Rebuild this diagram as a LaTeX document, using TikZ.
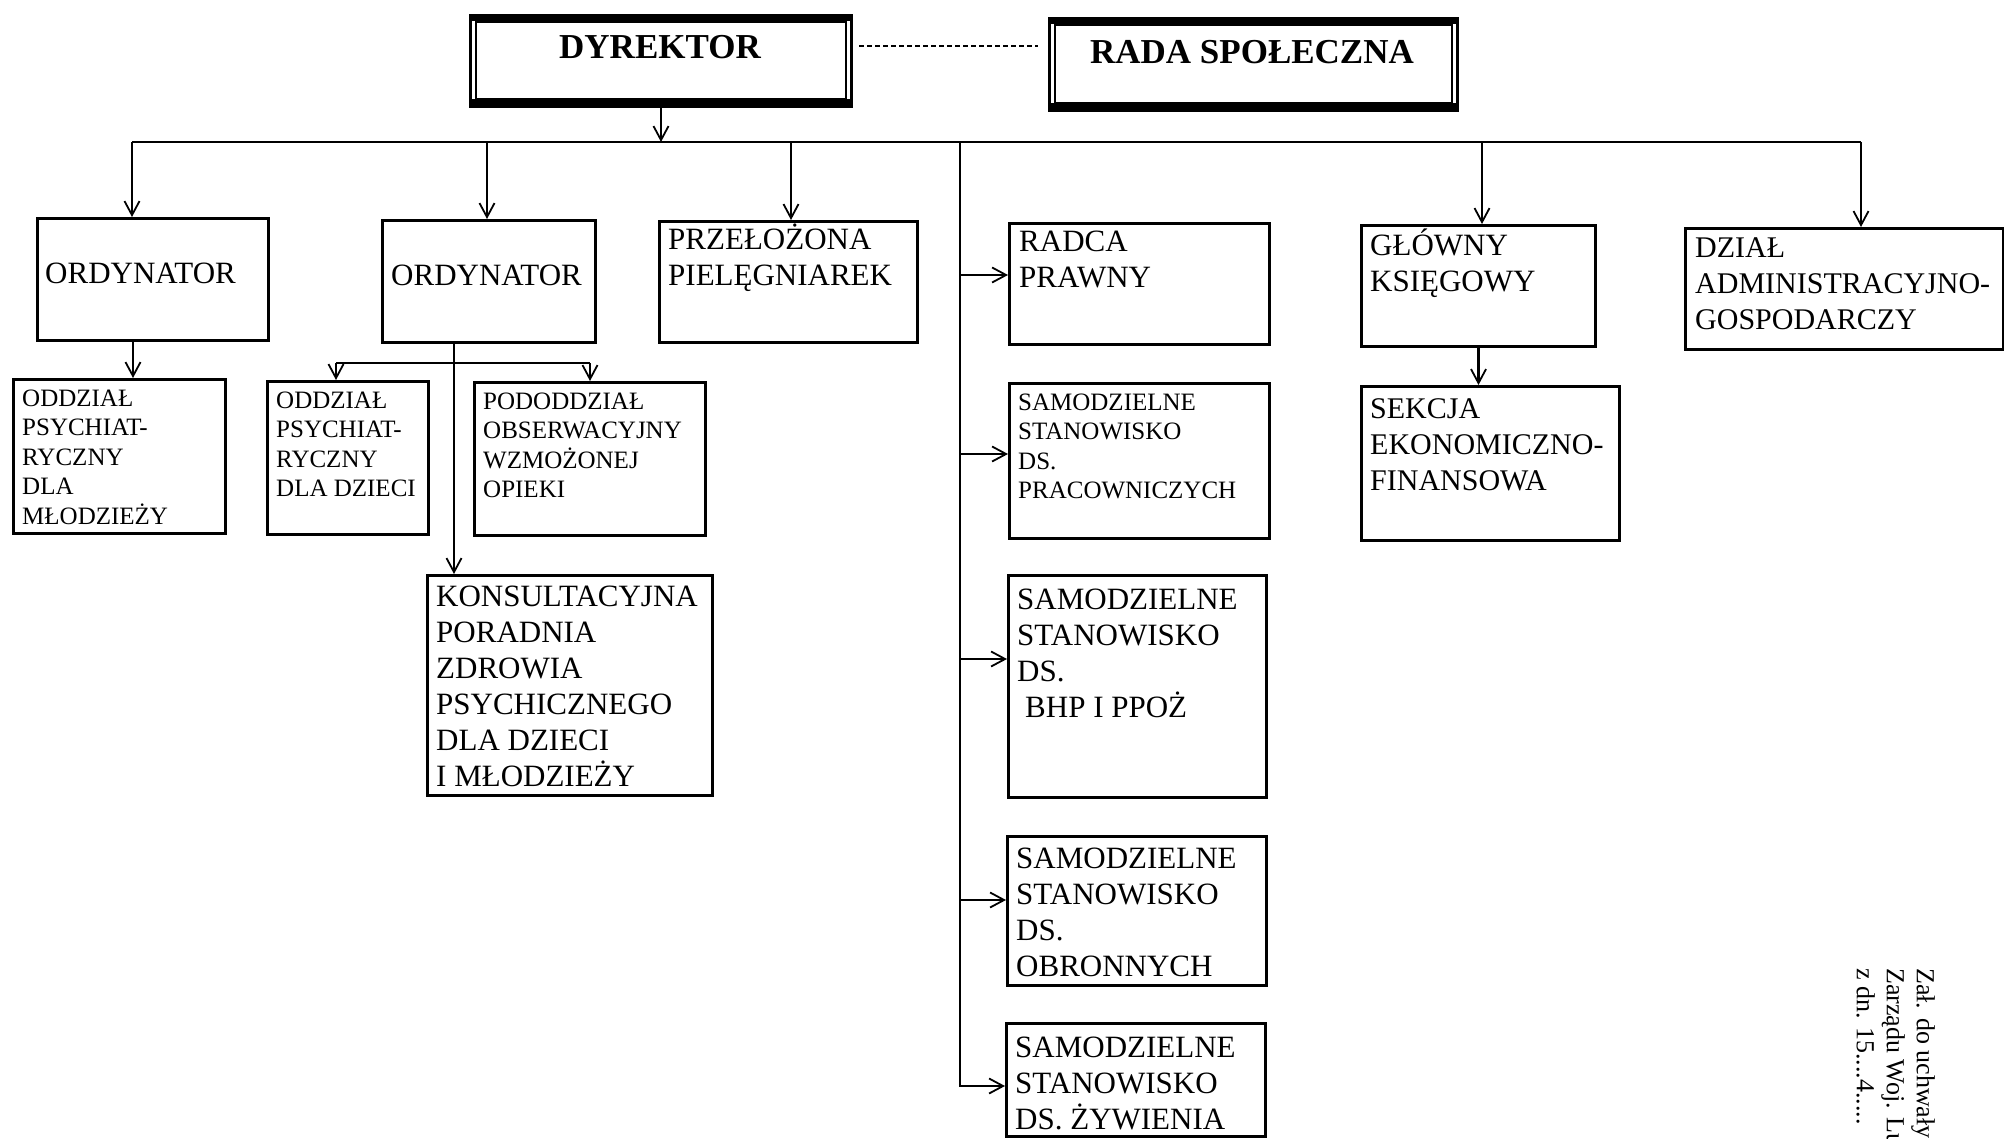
\documentclass[tikz,border=0pt]{standalone}
\usepackage{fontspec}
\setmainfont{Liberation Serif}
\usetikzlibrary{arrows.meta,calc}
\begin{document}
\begin{tikzpicture}[x=1pt,y=-1pt,
  box/.style={draw, line width=3pt, inner sep=0pt, anchor=north west},
  big/.style={anchor=base west, align=left, inner sep=0pt, font=\fontsize{31}{36}\selectfont},
  small/.style={anchor=base west, align=left, inner sep=0pt, font=\fontsize{25}{29.5}\selectfont},
  conn/.style={line width=2.2pt},
  arr/.style={conn, -{Straight Barb[length=14pt,width=15pt,line width=1.8pt]}},
  dashline/.style={line width=1.2pt, dash pattern=on 5pt off 3pt}]
\useasboundingbox (0,0) rectangle (2004,1139);

% top boxes (last-line baselines are given for the text nodes)
\node[box, minimum width=381pt, minimum height=91pt] (dyr) at (469,14) {};
\draw[line width=1.4pt] ($(dyr.north west)+(7,8)$) rectangle ($(dyr.south east)+(-7,-9)$);
\fill ($(dyr.north west)+(0,0)$) rectangle ($(dyr.north east)+(0,7)$);
\fill ($(dyr.south west)+(0,-9)$) rectangle ($(dyr.south east)$);
\node[anchor=base, inner sep=0pt, font=\fontsize{35}{40}\selectfont\bfseries] (dyrt) at (660,59) {DYREKTOR};

\node[box, minimum width=408pt, minimum height=92pt] (rada) at (1048,17) {};
\draw[line width=1.4pt] ($(rada.north west)+(7,8)$) rectangle ($(rada.south east)+(-7,-9)$);
\fill ($(rada.north west)+(0,0)$) rectangle ($(rada.north east)+(0,7)$);
\fill ($(rada.south west)+(0,-9)$) rectangle ($(rada.south east)$);
\node[anchor=base, inner sep=0pt, font=\fontsize{35}{40}\selectfont\bfseries] (radat) at (1252,64) {RADA SPOŁECZNA};

% second row
\node[box, minimum width=231pt, minimum height=122pt] (ord1) at (36,217) {};
\node[big] (ord1t) at (45,284) {ORDYNATOR};
\node[box, minimum width=213pt, minimum height=122pt] (ord2) at (381,219) {};
\node[big] (ord2t) at (391,286) {ORDYNATOR};
\node[box, minimum width=258pt, minimum height=121pt] (prz) at (658,220) {};
\node[big] (przt) at (668,286) {PRZEŁOŻONA\\PIELĘGNIAREK};
\node[box, minimum width=260pt, minimum height=121pt] (radca) at (1008,222) {};
\node[big] (radcat) at (1019,288) {RADCA\\PRAWNY};
\node[box, minimum width=234pt, minimum height=121pt] (glow) at (1360,224) {};
\node[big] (glowt) at (1370,292) {GŁÓWNY\\KSIĘGOWY};
\node[box, minimum width=318pt, minimum height=121pt] (dzial) at (1684,227) {};
\node[big, font=\fontsize{30}{36}\selectfont] (dzialt) at (1695,330) {DZIAŁ\\ADMINISTRACYJNO-\\GOSPODARCZY};

% third row
\node[box, minimum width=212pt, minimum height=154pt] (oddz1) at (12,378) {};
\node[small] (oddz1t) at (22,524) {ODDZIAŁ\\PSYCHIAT-\\RYCZNY\\DLA\\MŁODZIEŻY};
\node[box, minimum width=161pt, minimum height=153pt] (oddz2) at (266,380) {};
\node[small] (oddz2t) at (276,496.5) {ODDZIAŁ\\PSYCHIAT-\\RYCZNY\\DLA DZIECI};
\node[box, minimum width=231pt, minimum height=153pt] (podd) at (473,381) {};
\node[small] (poddt) at (483,497.5) {PODODDZIAŁ\\OBSERWACYJNY\\WZMOŻONEJ\\OPIEKI};
\node[box, minimum width=285pt, minimum height=220pt] (kons) at (426,574) {};
\node[big] (konst) at (436,786) {KONSULTACYJNA\\PORADNIA\\ZDROWIA\\PSYCHICZNEGO\\DLA DZIECI\\I MŁODZIEŻY};

\node[box, minimum width=260pt, minimum height=155pt] (prac) at (1008,382) {};
\node[small] (pract) at (1018,498.5) {SAMODZIELNE\\STANOWISKO\\DS.\\PRACOWNICZYCH};
\node[box, minimum width=258pt, minimum height=222pt] (bhp) at (1007,574) {};
\node[big] (bhpt) at (1017,717) {SAMODZIELNE\\STANOWISKO\\DS.\\\hspace*{8pt}BHP I PPOŻ};
\node[box, minimum width=259pt, minimum height=149pt] (obr) at (1006,835) {};
\node[big] (obrt) at (1016,976) {SAMODZIELNE\\STANOWISKO\\DS.\\OBRONNYCH};
\node[box, minimum width=259pt, minimum height=113pt] (zyw) at (1005,1022) {};
\node[big] (zywt) at (1015,1129) {SAMODZIELNE\\STANOWISKO\\DS. ŻYWIENIA};

\node[box, minimum width=258pt, minimum height=154pt] (sekcja) at (1360,385) {};
\node[big, font=\fontsize{30}{36}\selectfont] (sekcjat) at (1370,490) {SEKCJA\\EKONOMICZNO-\\FINANSOWA};

% connectors
\draw[dashline] ($(dyr.north east)+(6,32)$) -- ($(rada.north west)+(-10,29)$);
\coordinate (busL) at (132,142);
\coordinate (busR) at (1861,142);
\draw[conn] (busL) -- (busR);
\draw[arr] (dyr.south) -- (dyr.south |- busL);
\draw[arr] (busL) -- (busL |- ord1.north);
\coordinate (b2) at (487,142);
\draw[arr] (b2) -- (b2 |- ord2.north);
\coordinate (b3) at (791,142);
\draw[arr] (b3) -- (b3 |- prz.north);
\coordinate (b5) at (1482,142);
\draw[arr] (b5) -- (b5 |- glow.north);
\draw[arr] (busR) -- (busR |- dzial.north);

\coordinate (sp) at (960,142);
\coordinate (zy) at ($(zyw.north west)+(0,64)$);
\draw[arr] (sp) |- (zy);
\coordinate (ra) at ($(radca.north west)+(0,53)$);
\draw[arr] (sp |- ra) -- (ra);
\coordinate (pa) at ($(prac.north west)+(0,72)$);
\draw[arr] (sp |- pa) -- (pa);
\coordinate (bh) at ($(bhp.north west)+(0,85)$);
\draw[arr] (sp |- bh) -- (bh);
\coordinate (ob) at ($(obr.north west)+(0,65)$);
\draw[arr] (sp |- ob) -- (ob);

\coordinate (c1) at ($(ord1.south west)+(97,0)$);
\draw[arr] (c1) -- (c1 |- oddz1.north);
\coordinate (o2b) at ($(ord2.south west)+(73,0)$);
\draw[arr] (o2b) -- (o2b |- kons.north);
\coordinate (hL) at (336,363);
\coordinate (hR) at (590,363);
\draw[conn] (hL) -- (hR);
\draw[arr] (hL) -- (hL |- oddz2.north);
\draw[arr] (hR) -- (hR |- podd.north);
\draw[arr] (glow.south) -- (glow.south |- sekcja.north);

% rotated note
\node[rotate=-90, anchor=north west, align=left, inner sep=0pt, font=\fontsize{26}{30}\selectfont] (note) at (1935,968) {Zał. do uchwały\\Zarządu Woj. Lu\\z dn. 15....4.....};
\end{tikzpicture}
\end{document}
